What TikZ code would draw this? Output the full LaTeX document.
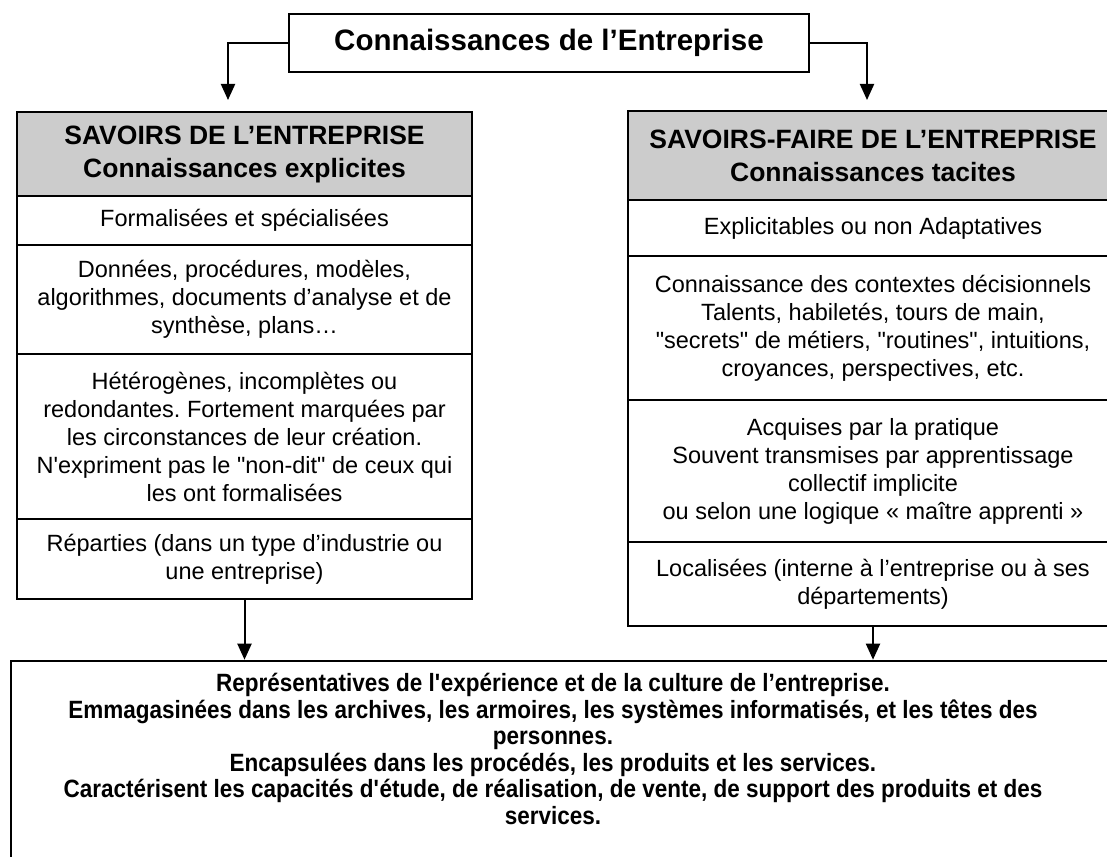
\documentclass[tikz,border=0pt]{standalone}
\usepackage{fontspec}
\setmainfont{Liberation Sans}
\newfontfamily\narrowfont[FakeStretch=0.9]{Liberation Sans}
\usetikzlibrary{arrows.meta}
\definecolor{headgray}{RGB}{204,204,204}
\frenchspacing
\begin{document}
\begin{tikzpicture}[x=1pt,y=-1pt,
  box/.style={draw, line width=2.6pt, inner sep=0pt, align=center},
  headbox/.style={box, fill=headgray, font=\fontsize{26.5}{33}\selectfont\bfseries},
  cellbox/.style={box, font=\fontsize{23.5}{28}\selectfont},
  conn/.style={line width=2pt, -{Triangle[width=14pt,length=16pt]}}]
\useasboundingbox (0,0) rectangle (1107,856);
\path[clip] (0,0) rectangle (1107,856);
% top
\node[box, minimum width=520, minimum height=58, font=\fontsize{29.5}{33}\selectfont\bfseries] (top) at (549,43) {Connaissances de l’Entreprise};
% left column
\node[headbox, minimum width=455, minimum height=84] (lh) at (244.5,154) {SAVOIRS DE L’ENTREPRISE\\Connaissances explicites};
\node[cellbox, minimum width=455, minimum height=49] (l1) at (244.5,220.5) {Formalisées et spécialisées};
\node[cellbox, minimum width=455, minimum height=109] (l2) at (244.5,299.5) {Données, procédures, modèles,\\algorithmes, documents d’analyse et de\\synthèse, plans…};
\node[cellbox, minimum width=455, minimum height=165] (l3) at (244.5,436.5) {Hétérogènes, incomplètes ou\\redondantes. Fortement marquées par\\les circonstances de leur création.\\N\textquotesingle expriment pas le \textquotedbl non-dit\textquotedbl{} de ceux qui\\les ont formalisées};
\node[cellbox, minimum width=455, minimum height=80] (l4) at (244.5,559) {Réparties (dans un type d’industrie ou\\une entreprise)};
% right column
\node[headbox, minimum width=490, minimum height=89] (rh) at (873,155.5) {SAVOIRS-FAIRE DE L’ENTREPRISE\\Connaissances tacites};
\node[cellbox, minimum width=490, minimum height=56] (r1) at (873,228) {Explicitables ou non Adaptatives};
\node[cellbox, minimum width=490, minimum height=144] (r2) at (873,328) {Connaissance des contextes décisionnels\\Talents, habiletés, tours de main,\\\textquotedbl secrets\textquotedbl{} de métiers, \textquotedbl routines\textquotedbl, intuitions,\\croyances, perspectives, etc.};
\node[cellbox, minimum width=490, minimum height=142] (r3) at (873,471) {Acquises par la pratique\\Souvent transmises par apprentissage\\collectif implicite\\ou selon une logique « maître apprenti »};
\node[cellbox, minimum width=490, minimum height=84] (r4) at (873,584) {Localisées (interne à l’entreprise ou à ses\\départements)};
% bottom
\node[box, minimum width=1099, minimum height=220] (bot) at (560.5,771) {};
\node[align=center, inner sep=0pt, font={\fontsize{25}{26.6}\narrowfont\bfseries}] (btext) at (553,749) {Représentatives de l\textquotesingle expérience et de la culture de l’entreprise.\\Emmagasinées dans les archives, les armoires, les systèmes informatisés, et les têtes des\\personnes.\\Encapsulées dans les procédés, les produits et les services.\\Caractérisent les capacités d\textquotesingle étude, de réalisation, de vente, de support des produits et des\\services.};
% connectors
\coordinate (la) at (228,100);
\coordinate (ra) at (867,100);
\draw[conn] (top.west) -| (la);
\draw[conn] (top.east) -| (ra);
\draw[conn] (l4.south) -- (l4.south |- bot.north);
\draw[conn] (r4.south) -- (r4.south |- bot.north);
\end{tikzpicture}
\end{document}
